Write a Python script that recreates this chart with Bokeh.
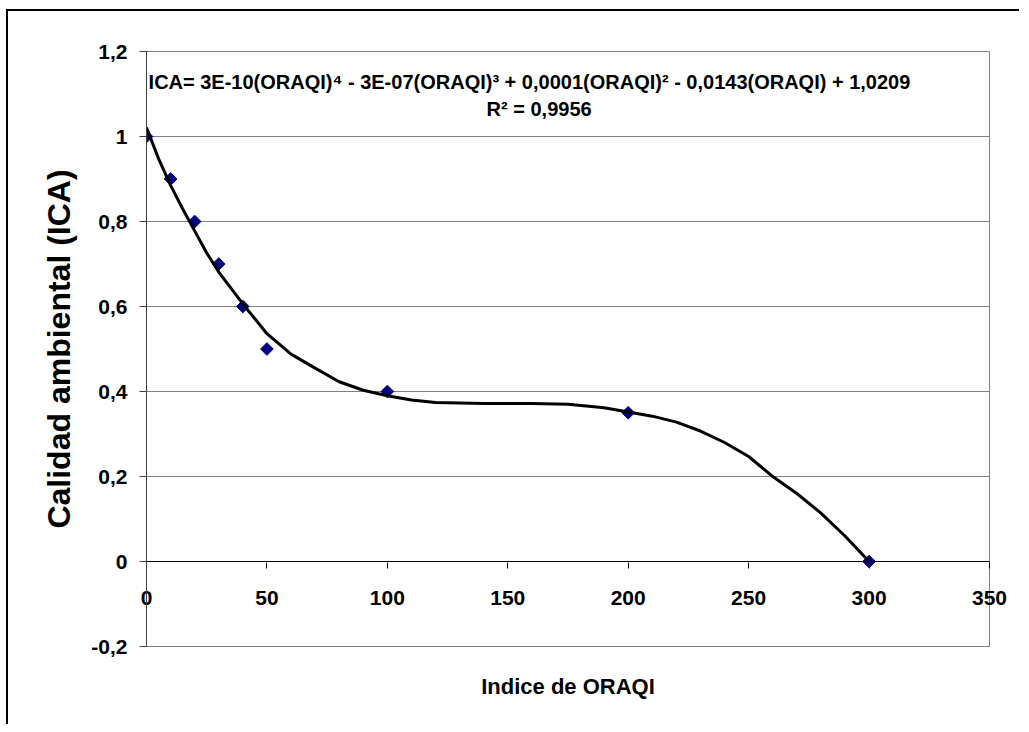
import math
from bokeh.plotting import figure
from bokeh.models import Range1d, FixedTicker, CustomJSTickFormatter, Label, LinearAxis, Span
from bokeh.embed import file_html
from bokeh.resources import INLINE

# ---- data ----
oraqi = [0, 10, 20, 30, 40, 50, 100, 200, 300]
ica = [1.0, 0.9, 0.8, 0.7, 0.6, 0.5, 0.4, 0.35, 0.0]

# trendline
trend_x = [0, 5, 10, 15, 20, 25, 30, 40, 50, 60, 70, 80, 90, 100, 110, 120,
           140, 160, 175, 190, 200, 210, 220, 230, 240, 250, 260, 270, 280, 290, 300]
trend_y = [1.021, 0.948, 0.885, 0.830, 0.778, 0.726, 0.681, 0.606, 0.536, 0.488,
           0.455, 0.423, 0.403, 0.390, 0.380, 0.374, 0.372, 0.372, 0.370, 0.362,
           0.352, 0.342, 0.328, 0.307, 0.280, 0.247, 0.200, 0.160, 0.114, 0.060, 0.000]

x_ticks = [0, 50, 100, 150, 200, 250, 300, 350]
y_ticks = [-0.2, 0.0, 0.2, 0.4, 0.6, 0.8, 1.0, 1.2]

equation = "ICA= 3E-10(ORAQI)\u2074 - 3E-07(ORAQI)\u00b3 + 0,0001(ORAQI)\u00b2 - 0,0143(ORAQI) + 1,0209"
r2_text = "R\u00b2 = 0,9956"
x_title = "Indice de ORAQI"
y_title = "Calidad ambiental (ICA)"

FONT = "Liberation Sans"

p = figure(frame_width=843, frame_height=595,
           x_range=Range1d(0, 350), y_range=Range1d(-0.2, 1.2),
           output_backend="svg", toolbar_location=None,
           x_axis_location=None,
           min_border_left=138, min_border_right=30,
           min_border_top=40, min_border_bottom=78)
p.styles = {"border-left": "2px solid black", "border-top": "2px solid black",
            "margin-left": "6px", "margin-top": "9px"}
p.background_fill_color = "white"
p.border_fill_color = "white"
p.outline_line_color = "#808080"
p.outline_line_width = 1

# y axis
ya = p.yaxis[0]
ya.ticker = FixedTicker(ticks=y_ticks)
ya.formatter = CustomJSTickFormatter(
    code="var s = (Math.round(tick*10)/10).toString(); return s.replace('.', ',');")
ya.major_tick_out = 7
ya.major_tick_in = 0
ya.minor_tick_out = 0
ya.minor_tick_in = 0
ya.axis_line_color = "#404040"
ya.major_tick_line_color = "#404040"
ya.major_label_text_font = FONT
ya.major_label_text_font_style = "bold"
ya.major_label_text_font_size = "21px"
ya.major_label_text_color = "black"
ya.major_label_standoff = 12
ya.axis_label = y_title
ya.axis_label_text_font = FONT
ya.axis_label_text_font_style = "bold"
ya.axis_label_text_font_size = "32px"
ya.axis_label_text_color = "black"
ya.axis_label_standoff = 11

# grids
p.ygrid.ticker = FixedTicker(ticks=y_ticks)
p.ygrid.grid_line_color = "#808080"
p.ygrid.grid_line_width = 1
for g in p.xgrid:
    g.visible = False

# x axis line at y = 0
p.add_layout(Span(location=0, dimension="width", line_color="black", line_width=1))

# x axis in the bottom panel: ticks pulled up to the y = 0 line,
# labels placed between 0 and -0.2, title below the frame
xl = LinearAxis(ticker=FixedTicker(ticks=x_ticks))
xl.axis_line_color = None
xl.major_tick_line_color = "black"
xl.minor_tick_line_color = None
xl.major_tick_in = 84
xl.major_tick_out = -78
xl.minor_tick_out = 0
xl.minor_tick_in = 0
xl.major_label_text_font = FONT
xl.major_label_text_font_style = "bold"
xl.major_label_text_font_size = "21px"
xl.major_label_text_color = "black"
xl.major_label_standoff = -56
xl.axis_label = x_title
xl.axis_label_text_font = FONT
xl.axis_label_text_font_style = "bold"
xl.axis_label_text_font_size = "22px"
xl.axis_label_text_color = "black"
xl.axis_label_standoff = 66
p.add_layout(xl, "below")

# data
p.scatter(oraqi, ica, marker="square", angle=math.pi / 4, size=9,
          fill_color="#000080", line_color="#000080")
p.line(trend_x, trend_y, line_color="black", line_width=3)

# equation text
p.add_layout(Label(x=159, y=1.1276, text=equation, text_align="center",
                   text_baseline="middle", text_font=FONT, text_font_style="bold",
                   text_font_size="20px", text_color="black"))
p.add_layout(Label(x=163, y=1.064, text=r2_text, text_align="center",
                   text_baseline="middle", text_font=FONT, text_font_style="bold",
                   text_font_size="20px", text_color="black"))

open("out.html", "w").write(file_html(p, INLINE))
